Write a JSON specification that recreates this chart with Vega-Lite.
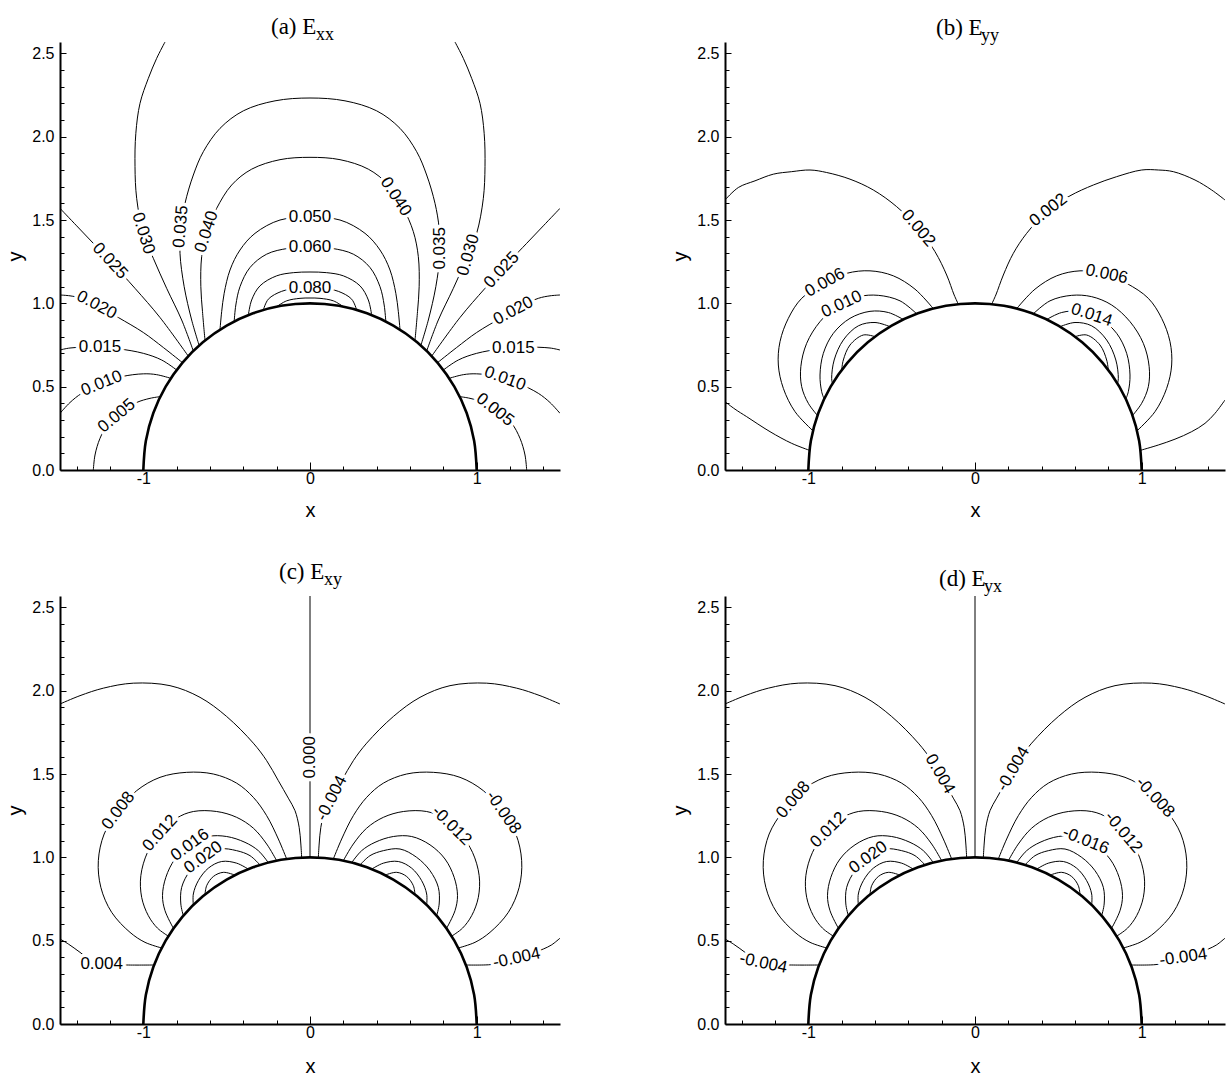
{
"$schema":"https://vega.github.io/schema/vega-lite/v6.json",
"autosize":{"type":"none"},
"padding":{"left":60,"top":42,"right":1168,"bottom":1034},
"background":"white",
"config":{"view":{"stroke":null},"axis":{"domainColor":"black","domainWidth":2,"tickColor":"black","tickWidth":1,"labelFont":"Liberation Sans","labelFontSize":16,"labelColor":"black","titleFont":"Liberation Sans","titleFontSize":20,"titleFontWeight":"normal","titleColor":"black","grid":false},"text":{"font":"Liberation Sans"},"line":{"strokeJoin":"round"},"title":{"font":"Liberation Serif","fontSize":23,"fontWeight":"normal","color":"black","subtitleFont":"Liberation Serif","subtitleFontSize":18,"subtitleColor":"black","anchor":"start","frame":"group","align":"left"}},
"datasets":{
"circ":[{"x":-1,"y":0},{"x":-0.985,"y":0.174},{"x":-0.94,"y":0.342},{"x":-0.866,"y":0.5},{"x":-0.766,"y":0.643},{"x":-0.643,"y":0.766},{"x":-0.5,"y":0.866},{"x":-0.342,"y":0.94},{"x":-0.174,"y":0.985},{"x":0,"y":1},{"x":0.174,"y":0.985},{"x":0.342,"y":0.94},{"x":0.5,"y":0.866},{"x":0.643,"y":0.766},{"x":0.766,"y":0.643},{"x":0.866,"y":0.5},{"x":0.94,"y":0.342},{"x":0.985,"y":0.174},{"x":1,"y":0}],
"a":[
{"c":"005L","x":-1.3,"y":0},{"c":"005L","x":-1.29,"y":0.09},{"c":"005L","x":-1.26,"y":0.19},{"c":"005L","x":-1.21,"y":0.28},{"c":"005L","x":-1.13,"y":0.35},{"c":"005L","x":-1.04,"y":0.405},{"c":"005L","x":-0.96,"y":0.43},{"c":"005L","x":-0.9,"y":0.44},
{"c":"005R","x":1.3,"y":0},{"c":"005R","x":1.29,"y":0.09},{"c":"005R","x":1.26,"y":0.19},{"c":"005R","x":1.21,"y":0.28},{"c":"005R","x":1.13,"y":0.35},{"c":"005R","x":1.04,"y":0.405},{"c":"005R","x":0.96,"y":0.43},{"c":"005R","x":0.9,"y":0.44},
{"c":"010L","x":-1.5,"y":0.34},{"c":"010L","x":-1.44,"y":0.405},{"c":"010L","x":-1.37,"y":0.46},{"c":"010L","x":-1.25,"y":0.52},{"c":"010L","x":-1.13,"y":0.56},{"c":"010L","x":-1.0,"y":0.577},{"c":"010L","x":-0.92,"y":0.572},{"c":"010L","x":-0.835,"y":0.55},
{"c":"010R","x":1.5,"y":0.34},{"c":"010R","x":1.44,"y":0.405},{"c":"010R","x":1.37,"y":0.46},{"c":"010R","x":1.25,"y":0.52},{"c":"010R","x":1.13,"y":0.56},{"c":"010R","x":1.0,"y":0.577},{"c":"010R","x":0.92,"y":0.572},{"c":"010R","x":0.835,"y":0.55},
{"c":"015L","x":-1.5,"y":0.72},{"c":"015L","x":-1.44,"y":0.732},{"c":"015L","x":-1.3,"y":0.737},{"c":"015L","x":-1.15,"y":0.727},{"c":"015L","x":-1.0,"y":0.7},{"c":"015L","x":-0.89,"y":0.66},{"c":"015L","x":-0.8,"y":0.6},
{"c":"015R","x":1.5,"y":0.72},{"c":"015R","x":1.44,"y":0.732},{"c":"015R","x":1.3,"y":0.737},{"c":"015R","x":1.15,"y":0.727},{"c":"015R","x":1.0,"y":0.7},{"c":"015R","x":0.89,"y":0.66},{"c":"015R","x":0.8,"y":0.6},
{"c":"020L","x":-1.5,"y":1.05},{"c":"020L","x":-1.44,"y":1.045},{"c":"020L","x":-1.37,"y":1.03},{"c":"020L","x":-1.27,"y":0.985},{"c":"020L","x":-1.15,"y":0.915},{"c":"020L","x":-1.0,"y":0.825},{"c":"020L","x":-0.88,"y":0.735},{"c":"020L","x":-0.765,"y":0.644},
{"c":"020R","x":1.5,"y":1.05},{"c":"020R","x":1.44,"y":1.045},{"c":"020R","x":1.37,"y":1.03},{"c":"020R","x":1.27,"y":0.985},{"c":"020R","x":1.15,"y":0.915},{"c":"020R","x":1.0,"y":0.825},{"c":"020R","x":0.88,"y":0.735},{"c":"020R","x":0.765,"y":0.644},
{"c":"025L","x":-1.5,"y":1.57},{"c":"025L","x":-1.4,"y":1.465},{"c":"025L","x":-1.3,"y":1.36},{"c":"025L","x":-1.2,"y":1.255},{"c":"025L","x":-1.05,"y":1.09},{"c":"025L","x":-0.9,"y":0.915},{"c":"025L","x":-0.73,"y":0.683},
{"c":"025R","x":1.5,"y":1.57},{"c":"025R","x":1.4,"y":1.465},{"c":"025R","x":1.3,"y":1.36},{"c":"025R","x":1.2,"y":1.255},{"c":"025R","x":1.05,"y":1.09},{"c":"025R","x":0.9,"y":0.915},{"c":"025R","x":0.73,"y":0.683},
{"c":"030L","x":-0.87,"y":2.568},{"c":"030L","x":-0.92,"y":2.47},{"c":"030L","x":-0.97,"y":2.35},{"c":"030L","x":-1.02,"y":2.2},{"c":"030L","x":-1.045,"y":2.02},{"c":"030L","x":-1.05,"y":1.82},{"c":"030L","x":-1.04,"y":1.63},{"c":"030L","x":-1.0,"y":1.42},{"c":"030L","x":-0.94,"y":1.27},{"c":"030L","x":-0.86,"y":1.09},{"c":"030L","x":-0.77,"y":0.9},{"c":"030L","x":-0.7,"y":0.714},
{"c":"030R","x":0.87,"y":2.568},{"c":"030R","x":0.92,"y":2.47},{"c":"030R","x":0.97,"y":2.35},{"c":"030R","x":1.02,"y":2.2},{"c":"030R","x":1.045,"y":2.02},{"c":"030R","x":1.05,"y":1.82},{"c":"030R","x":1.04,"y":1.63},{"c":"030R","x":1.0,"y":1.42},{"c":"030R","x":0.94,"y":1.27},{"c":"030R","x":0.86,"y":1.09},{"c":"030R","x":0.77,"y":0.9},{"c":"030R","x":0.7,"y":0.714},
{"c":"035","x":-0.665,"y":0.747},{"c":"035","x":-0.71,"y":0.9},{"c":"035","x":-0.755,"y":1.1},{"c":"035","x":-0.78,"y":1.3},{"c":"035","x":-0.775,"y":1.45},{"c":"035","x":-0.75,"y":1.6},{"c":"035","x":-0.7,"y":1.77},{"c":"035","x":-0.64,"y":1.91},{"c":"035","x":-0.54,"y":2.05},{"c":"035","x":-0.4,"y":2.155},{"c":"035","x":-0.21,"y":2.215},{"c":"035","x":0,"y":2.232},{"c":"035","x":0.21,"y":2.215},{"c":"035","x":0.4,"y":2.155},{"c":"035","x":0.54,"y":2.05},{"c":"035","x":0.64,"y":1.91},{"c":"035","x":0.7,"y":1.77},{"c":"035","x":0.75,"y":1.6},{"c":"035","x":0.775,"y":1.45},{"c":"035","x":0.78,"y":1.3},{"c":"035","x":0.755,"y":1.1},{"c":"035","x":0.71,"y":0.9},{"c":"035","x":0.665,"y":0.747},
{"c":"040","x":-0.63,"y":0.777},{"c":"040","x":-0.645,"y":0.95},{"c":"040","x":-0.655,"y":1.1},{"c":"040","x":-0.65,"y":1.28},{"c":"040","x":-0.62,"y":1.43},{"c":"040","x":-0.56,"y":1.57},{"c":"040","x":-0.47,"y":1.71},{"c":"040","x":-0.35,"y":1.805},{"c":"040","x":-0.18,"y":1.862},{"c":"040","x":0,"y":1.876},{"c":"040","x":0.18,"y":1.862},{"c":"040","x":0.35,"y":1.805},{"c":"040","x":0.47,"y":1.71},{"c":"040","x":0.56,"y":1.57},{"c":"040","x":0.62,"y":1.43},{"c":"040","x":0.65,"y":1.28},{"c":"040","x":0.655,"y":1.1},{"c":"040","x":0.645,"y":0.95},{"c":"040","x":0.63,"y":0.777},
{"c":"050","x":-0.54,"y":0.842},{"c":"050","x":-0.53,"y":0.95},{"c":"050","x":-0.515,"y":1.06},{"c":"050","x":-0.48,"y":1.2},{"c":"050","x":-0.42,"y":1.32},{"c":"050","x":-0.33,"y":1.42},{"c":"050","x":-0.18,"y":1.5},{"c":"050","x":0,"y":1.517},{"c":"050","x":0.18,"y":1.5},{"c":"050","x":0.33,"y":1.42},{"c":"050","x":0.42,"y":1.32},{"c":"050","x":0.48,"y":1.2},{"c":"050","x":0.515,"y":1.06},{"c":"050","x":0.53,"y":0.95},{"c":"050","x":0.54,"y":0.842},
{"c":"060","x":-0.455,"y":0.89},{"c":"060","x":-0.445,"y":0.99},{"c":"060","x":-0.42,"y":1.1},{"c":"060","x":-0.36,"y":1.215},{"c":"060","x":-0.26,"y":1.295},{"c":"060","x":-0.13,"y":1.33},{"c":"060","x":0,"y":1.337},{"c":"060","x":0.13,"y":1.33},{"c":"060","x":0.26,"y":1.295},{"c":"060","x":0.36,"y":1.215},{"c":"060","x":0.42,"y":1.1},{"c":"060","x":0.445,"y":0.99},{"c":"060","x":0.455,"y":0.89},
{"c":"070","x":-0.37,"y":0.929},{"c":"070","x":-0.35,"y":1.02},{"c":"070","x":-0.3,"y":1.105},{"c":"070","x":-0.2,"y":1.165},{"c":"070","x":-0.1,"y":1.184},{"c":"070","x":0,"y":1.188},{"c":"070","x":0.1,"y":1.184},{"c":"070","x":0.2,"y":1.165},{"c":"070","x":0.3,"y":1.105},{"c":"070","x":0.35,"y":1.02},{"c":"070","x":0.37,"y":0.929},
{"c":"080","x":-0.28,"y":0.96},{"c":"080","x":-0.25,"y":1.025},{"c":"080","x":-0.17,"y":1.072},{"c":"080","x":-0.08,"y":1.09},{"c":"080","x":0,"y":1.093},{"c":"080","x":0.08,"y":1.09},{"c":"080","x":0.17,"y":1.072},{"c":"080","x":0.25,"y":1.025},{"c":"080","x":0.28,"y":0.96},
{"c":"090","x":-0.2,"y":0.98},{"c":"090","x":-0.14,"y":1.015},{"c":"090","x":-0.06,"y":1.03},{"c":"090","x":0,"y":1.032},{"c":"090","x":0.06,"y":1.03},{"c":"090","x":0.14,"y":1.015},{"c":"090","x":0.2,"y":0.98}
],
"b":[
{"c":"002L","x":-1.5,"y":1.62},{"c":"002L","x":-1.42,"y":1.695},{"c":"002L","x":-1.32,"y":1.735},{"c":"002L","x":-1.21,"y":1.775},{"c":"002L","x":-1.1,"y":1.79},{"c":"002L","x":-0.99,"y":1.8},{"c":"002L","x":-0.89,"y":1.785},{"c":"002L","x":-0.75,"y":1.745},{"c":"002L","x":-0.61,"y":1.68},{"c":"002L","x":-0.47,"y":1.58},{"c":"002L","x":-0.34,"y":1.45},{"c":"002L","x":-0.24,"y":1.31},{"c":"002L","x":-0.17,"y":1.17},{"c":"002L","x":-0.125,"y":1.05},{"c":"002L","x":-0.1,"y":0.995},
{"c":"002R","x":0.1,"y":0.995},{"c":"002R","x":0.125,"y":1.05},{"c":"002R","x":0.17,"y":1.17},{"c":"002R","x":0.23,"y":1.3},{"c":"002R","x":0.31,"y":1.42},{"c":"002R","x":0.44,"y":1.56},{"c":"002R","x":0.57,"y":1.645},{"c":"002R","x":0.71,"y":1.71},{"c":"002R","x":0.85,"y":1.76},{"c":"002R","x":1.0,"y":1.8},{"c":"002R","x":1.1,"y":1.8},{"c":"002R","x":1.19,"y":1.79},{"c":"002R","x":1.32,"y":1.74},{"c":"002R","x":1.42,"y":1.68},{"c":"002R","x":1.5,"y":1.62},
{"c":"lowL","x":-1.5,"y":0.41},{"c":"lowL","x":-1.44,"y":0.365},{"c":"lowL","x":-1.37,"y":0.32},{"c":"lowL","x":-1.23,"y":0.23},{"c":"lowL","x":-1.1,"y":0.16},{"c":"lowL","x":-0.993,"y":0.118},
{"c":"lowR","x":0.993,"y":0.118},{"c":"lowR","x":1.1,"y":0.15},{"c":"lowR","x":1.2,"y":0.185},{"c":"lowR","x":1.3,"y":0.23},{"c":"lowR","x":1.38,"y":0.28},{"c":"lowR","x":1.44,"y":0.34},{"c":"lowR","x":1.5,"y":0.42},
{"c":"006L","x":-0.25,"y":0.968},{"c":"006L","x":-0.36,"y":1.085},{"c":"006L","x":-0.49,"y":1.165},{"c":"006L","x":-0.63,"y":1.195},{"c":"006L","x":-0.77,"y":1.18},{"c":"006L","x":-0.91,"y":1.12},{"c":"006L","x":-1.04,"y":1.03},{"c":"006L","x":-1.12,"y":0.91},{"c":"006L","x":-1.17,"y":0.77},{"c":"006L","x":-1.18,"y":0.63},{"c":"006L","x":-1.15,"y":0.49},{"c":"006L","x":-1.08,"y":0.35},{"c":"006L","x":-0.972,"y":0.235},
{"c":"006R","x":0.25,"y":0.968},{"c":"006R","x":0.36,"y":1.085},{"c":"006R","x":0.49,"y":1.165},{"c":"006R","x":0.63,"y":1.195},{"c":"006R","x":0.77,"y":1.18},{"c":"006R","x":0.91,"y":1.12},{"c":"006R","x":1.04,"y":1.03},{"c":"006R","x":1.12,"y":0.91},{"c":"006R","x":1.17,"y":0.77},{"c":"006R","x":1.18,"y":0.63},{"c":"006R","x":1.15,"y":0.49},{"c":"006R","x":1.08,"y":0.35},{"c":"006R","x":0.972,"y":0.235},
{"c":"010L","x":-0.35,"y":0.937},{"c":"010L","x":-0.45,"y":1.015},{"c":"010L","x":-0.58,"y":1.048},{"c":"010L","x":-0.7,"y":1.04},{"c":"010L","x":-0.82,"y":0.99},{"c":"010L","x":-0.93,"y":0.89},{"c":"010L","x":-1.01,"y":0.76},{"c":"010L","x":-1.045,"y":0.62},{"c":"010L","x":-1.04,"y":0.5},{"c":"010L","x":-1.0,"y":0.4},{"c":"010L","x":-0.945,"y":0.327},
{"c":"010R","x":0.35,"y":0.937},{"c":"010R","x":0.45,"y":1.015},{"c":"010R","x":0.58,"y":1.048},{"c":"010R","x":0.7,"y":1.04},{"c":"010R","x":0.82,"y":0.99},{"c":"010R","x":0.93,"y":0.89},{"c":"010R","x":1.01,"y":0.76},{"c":"010R","x":1.045,"y":0.62},{"c":"010R","x":1.04,"y":0.5},{"c":"010R","x":1.0,"y":0.4},{"c":"010R","x":0.945,"y":0.327},
{"c":"014L","x":-0.43,"y":0.903},{"c":"014L","x":-0.52,"y":0.945},{"c":"014L","x":-0.63,"y":0.952},{"c":"014L","x":-0.75,"y":0.91},{"c":"014L","x":-0.85,"y":0.82},{"c":"014L","x":-0.91,"y":0.7},{"c":"014L","x":-0.93,"y":0.57},{"c":"014L","x":-0.92,"y":0.47},{"c":"014L","x":-0.905,"y":0.425},
{"c":"014R","x":0.43,"y":0.903},{"c":"014R","x":0.52,"y":0.945},{"c":"014R","x":0.63,"y":0.952},{"c":"014R","x":0.75,"y":0.91},{"c":"014R","x":0.85,"y":0.82},{"c":"014R","x":0.91,"y":0.7},{"c":"014R","x":0.93,"y":0.57},{"c":"014R","x":0.92,"y":0.47},{"c":"014R","x":0.905,"y":0.425},
{"c":"018L","x":-0.51,"y":0.86},{"c":"018L","x":-0.6,"y":0.885},{"c":"018L","x":-0.7,"y":0.865},{"c":"018L","x":-0.79,"y":0.78},{"c":"018L","x":-0.845,"y":0.66},{"c":"018L","x":-0.86,"y":0.55},{"c":"018L","x":-0.855,"y":0.518},
{"c":"018R","x":0.51,"y":0.86},{"c":"018R","x":0.6,"y":0.885},{"c":"018R","x":0.7,"y":0.865},{"c":"018R","x":0.79,"y":0.78},{"c":"018R","x":0.845,"y":0.66},{"c":"018R","x":0.86,"y":0.55},{"c":"018R","x":0.855,"y":0.518},
{"c":"022L","x":-0.6,"y":0.8},{"c":"022L","x":-0.67,"y":0.81},{"c":"022L","x":-0.75,"y":0.75},{"c":"022L","x":-0.79,"y":0.66},{"c":"022L","x":-0.8,"y":0.6},
{"c":"022R","x":0.6,"y":0.8},{"c":"022R","x":0.67,"y":0.81},{"c":"022R","x":0.75,"y":0.75},{"c":"022R","x":0.79,"y":0.66},{"c":"022R","x":0.8,"y":0.6}
],
"cd":[
{"c":"v","x":0,"y":1},{"c":"v","x":0,"y":2.568},
{"c":"o4L","x":-1.5,"y":1.92},{"c":"o4L","x":-1.38,"y":1.97},{"c":"o4L","x":-1.24,"y":2.015},{"c":"o4L","x":-1.06,"y":2.045},{"c":"o4L","x":-0.84,"y":2.03},{"c":"o4L","x":-0.66,"y":1.96},{"c":"o4L","x":-0.5,"y":1.845},{"c":"o4L","x":-0.34,"y":1.685},{"c":"o4L","x":-0.26,"y":1.58},{"c":"o4L","x":-0.19,"y":1.46},{"c":"o4L","x":-0.13,"y":1.355},{"c":"o4L","x":-0.09,"y":1.28},{"c":"o4L","x":-0.065,"y":1.18},{"c":"o4L","x":-0.055,"y":1.08},{"c":"o4L","x":-0.05,"y":0.999},
{"c":"o4R","x":1.5,"y":1.92},{"c":"o4R","x":1.38,"y":1.97},{"c":"o4R","x":1.24,"y":2.015},{"c":"o4R","x":1.06,"y":2.045},{"c":"o4R","x":0.84,"y":2.03},{"c":"o4R","x":0.66,"y":1.96},{"c":"o4R","x":0.5,"y":1.845},{"c":"o4R","x":0.34,"y":1.685},{"c":"o4R","x":0.26,"y":1.58},{"c":"o4R","x":0.19,"y":1.46},{"c":"o4R","x":0.13,"y":1.355},{"c":"o4R","x":0.09,"y":1.28},{"c":"o4R","x":0.065,"y":1.18},{"c":"o4R","x":0.055,"y":1.08},{"c":"o4R","x":0.05,"y":0.999},
{"c":"l4L","x":-1.5,"y":0.51},{"c":"l4L","x":-1.45,"y":0.48},{"c":"l4L","x":-1.38,"y":0.43},{"c":"l4L","x":-1.32,"y":0.385},{"c":"l4L","x":-1.25,"y":0.36},{"c":"l4L","x":-1.1,"y":0.354},{"c":"l4L","x":-0.935,"y":0.354},
{"c":"l4R","x":0.935,"y":0.354},{"c":"l4R","x":1.08,"y":0.356},{"c":"l4R","x":1.16,"y":0.37},{"c":"l4R","x":1.24,"y":0.395},{"c":"l4R","x":1.32,"y":0.42},{"c":"l4R","x":1.4,"y":0.45},{"c":"l4R","x":1.45,"y":0.475},{"c":"l4R","x":1.5,"y":0.515},
{"c":"8L","x":-0.14,"y":0.99},{"c":"8L","x":-0.19,"y":1.11},{"c":"8L","x":-0.26,"y":1.25},{"c":"8L","x":-0.34,"y":1.36},{"c":"8L","x":-0.44,"y":1.445},{"c":"8L","x":-0.58,"y":1.5},{"c":"8L","x":-0.74,"y":1.51},{"c":"8L","x":-0.9,"y":1.48},{"c":"8L","x":-1.04,"y":1.4},{"c":"8L","x":-1.15,"y":1.28},{"c":"8L","x":-1.235,"y":1.14},{"c":"8L","x":-1.27,"y":0.98},{"c":"8L","x":-1.255,"y":0.82},{"c":"8L","x":-1.19,"y":0.67},{"c":"8L","x":-1.08,"y":0.55},{"c":"8L","x":-0.99,"y":0.49},{"c":"8L","x":-0.89,"y":0.456},
{"c":"8R","x":0.14,"y":0.99},{"c":"8R","x":0.19,"y":1.11},{"c":"8R","x":0.26,"y":1.25},{"c":"8R","x":0.34,"y":1.36},{"c":"8R","x":0.44,"y":1.445},{"c":"8R","x":0.58,"y":1.5},{"c":"8R","x":0.74,"y":1.51},{"c":"8R","x":0.9,"y":1.48},{"c":"8R","x":1.04,"y":1.4},{"c":"8R","x":1.15,"y":1.28},{"c":"8R","x":1.235,"y":1.14},{"c":"8R","x":1.27,"y":0.98},{"c":"8R","x":1.255,"y":0.82},{"c":"8R","x":1.19,"y":0.67},{"c":"8R","x":1.08,"y":0.55},{"c":"8R","x":0.99,"y":0.49},{"c":"8R","x":0.89,"y":0.456},
{"c":"12L","x":-0.2,"y":0.98},{"c":"12L","x":-0.26,"y":1.08},{"c":"12L","x":-0.34,"y":1.175},{"c":"12L","x":-0.44,"y":1.24},{"c":"12L","x":-0.56,"y":1.275},{"c":"12L","x":-0.7,"y":1.275},{"c":"12L","x":-0.8,"y":1.235},{"c":"12L","x":-0.9,"y":1.145},{"c":"12L","x":-0.975,"y":1.03},{"c":"12L","x":-1.015,"y":0.89},{"c":"12L","x":-1.01,"y":0.76},{"c":"12L","x":-0.97,"y":0.65},{"c":"12L","x":-0.915,"y":0.575},{"c":"12L","x":-0.85,"y":0.527},
{"c":"12R","x":0.2,"y":0.98},{"c":"12R","x":0.26,"y":1.08},{"c":"12R","x":0.34,"y":1.175},{"c":"12R","x":0.44,"y":1.24},{"c":"12R","x":0.56,"y":1.275},{"c":"12R","x":0.7,"y":1.275},{"c":"12R","x":0.8,"y":1.235},{"c":"12R","x":0.9,"y":1.145},{"c":"12R","x":0.975,"y":1.03},{"c":"12R","x":1.015,"y":0.89},{"c":"12R","x":1.01,"y":0.76},{"c":"12R","x":0.97,"y":0.65},{"c":"12R","x":0.915,"y":0.575},{"c":"12R","x":0.85,"y":0.527},
{"c":"16L","x":-0.25,"y":0.968},{"c":"16L","x":-0.31,"y":1.04},{"c":"16L","x":-0.39,"y":1.09},{"c":"16L","x":-0.5,"y":1.125},{"c":"16L","x":-0.61,"y":1.125},{"c":"16L","x":-0.72,"y":1.075},{"c":"16L","x":-0.81,"y":0.99},{"c":"16L","x":-0.865,"y":0.88},{"c":"16L","x":-0.885,"y":0.77},{"c":"16L","x":-0.87,"y":0.68},{"c":"16L","x":-0.82,"y":0.575},
{"c":"16R","x":0.25,"y":0.968},{"c":"16R","x":0.31,"y":1.04},{"c":"16R","x":0.39,"y":1.09},{"c":"16R","x":0.5,"y":1.125},{"c":"16R","x":0.61,"y":1.125},{"c":"16R","x":0.72,"y":1.075},{"c":"16R","x":0.81,"y":0.99},{"c":"16R","x":0.865,"y":0.88},{"c":"16R","x":0.885,"y":0.77},{"c":"16R","x":0.87,"y":0.68},{"c":"16R","x":0.82,"y":0.575},
{"c":"20L","x":-0.3,"y":0.954},{"c":"20L","x":-0.36,"y":1.01},{"c":"20L","x":-0.44,"y":1.04},{"c":"20L","x":-0.54,"y":1.05},{"c":"20L","x":-0.64,"y":1.0},{"c":"20L","x":-0.72,"y":0.92},{"c":"20L","x":-0.77,"y":0.82},{"c":"20L","x":-0.775,"y":0.72},{"c":"20L","x":-0.76,"y":0.65},
{"c":"20R","x":0.3,"y":0.954},{"c":"20R","x":0.36,"y":1.01},{"c":"20R","x":0.44,"y":1.04},{"c":"20R","x":0.54,"y":1.05},{"c":"20R","x":0.64,"y":1.0},{"c":"20R","x":0.72,"y":0.92},{"c":"20R","x":0.77,"y":0.82},{"c":"20R","x":0.775,"y":0.72},{"c":"20R","x":0.76,"y":0.65},
{"c":"24L","x":-0.37,"y":0.929},{"c":"24L","x":-0.44,"y":0.965},{"c":"24L","x":-0.53,"y":0.975},{"c":"24L","x":-0.61,"y":0.935},{"c":"24L","x":-0.67,"y":0.86},{"c":"24L","x":-0.7,"y":0.78},{"c":"24L","x":-0.7,"y":0.714},
{"c":"24R","x":0.37,"y":0.929},{"c":"24R","x":0.44,"y":0.965},{"c":"24R","x":0.53,"y":0.975},{"c":"24R","x":0.61,"y":0.935},{"c":"24R","x":0.67,"y":0.86},{"c":"24R","x":0.7,"y":0.78},{"c":"24R","x":0.7,"y":0.714},
{"c":"28L","x":-0.45,"y":0.893},{"c":"28L","x":-0.52,"y":0.91},{"c":"28L","x":-0.58,"y":0.885},{"c":"28L","x":-0.62,"y":0.83},{"c":"28L","x":-0.63,"y":0.777},
{"c":"28R","x":0.45,"y":0.893},{"c":"28R","x":0.52,"y":0.91},{"c":"28R","x":0.58,"y":0.885},{"c":"28R","x":0.62,"y":0.83},{"c":"28R","x":0.63,"y":0.777}
],
"la":[{"t":"0.005","x":-1.16,"y":0.325,"r":-40},{"t":"0.010","x":-1.25,"y":0.52,"r":-22},{"t":"0.015","x":-1.26,"y":0.736,"r":0},{"t":"0.020","x":-1.28,"y":0.99,"r":28},{"t":"0.025","x":-1.2,"y":1.255,"r":47},{"t":"0.030","x":-1.0,"y":1.42,"r":73},{"t":"0.035","x":-0.775,"y":1.46,"r":-85},{"t":"0.040","x":-0.62,"y":1.43,"r":-72},{"t":"0.050","x":0,"y":1.517,"r":0},{"t":"0.060","x":0,"y":1.337,"r":0},{"t":"0.080","x":0,"y":1.093,"r":0},{"t":"0.040","x":0.515,"y":1.64,"r":57},{"t":"0.035","x":0.78,"y":1.33,"r":-90},{"t":"0.030","x":0.95,"y":1.29,"r":-74},{"t":"0.025","x":1.15,"y":1.2,"r":-47},{"t":"0.020","x":1.22,"y":0.955,"r":-28},{"t":"0.015","x":1.22,"y":0.733,"r":0},{"t":"0.010","x":1.17,"y":0.548,"r":20},{"t":"0.005","x":1.11,"y":0.362,"r":38}],
"lb":[{"t":"0.002","x":-0.34,"y":1.45,"r":50},{"t":"0.006","x":-0.9,"y":1.125,"r":-29},{"t":"0.010","x":-0.8,"y":0.995,"r":-25},{"t":"0.002","x":0.44,"y":1.56,"r":-38},{"t":"0.006","x":0.79,"y":1.175,"r":12},{"t":"0.014","x":0.7,"y":0.93,"r":18}],
"lc":[{"t":"0.000","x":0,"y":1.6,"r":-90},{"t":"0.008","x":-1.15,"y":1.28,"r":-53},{"t":"0.012","x":-0.9,"y":1.145,"r":-48},{"t":"0.016","x":-0.72,"y":1.075,"r":-36},{"t":"0.020","x":-0.64,"y":1.0,"r":-36},{"t":"0.004","x":-1.25,"y":0.362,"r":0},{"t":"-0.004","x":0.13,"y":1.355,"r":-63},{"t":"-0.008","x":1.16,"y":1.27,"r":55},{"t":"-0.012","x":0.85,"y":1.19,"r":45},{"t":"-0.004","x":1.24,"y":0.395,"r":-12}],
"ld":[{"t":"0.004","x":-0.21,"y":1.5,"r":60},{"t":"0.008","x":-1.09,"y":1.345,"r":-50},{"t":"0.012","x":-0.88,"y":1.165,"r":-45},{"t":"0.020","x":-0.64,"y":1.0,"r":-36},{"t":"-0.004","x":-1.27,"y":0.365,"r":12},{"t":"-0.004","x":0.23,"y":1.53,"r":-60},{"t":"-0.008","x":1.08,"y":1.36,"r":47},{"t":"-0.012","x":0.89,"y":1.15,"r":50},{"t":"-0.016","x":0.665,"y":1.1,"r":22},{"t":"-0.004","x":1.25,"y":0.4,"r":-8}]
},
"concat":[
{"width":500,"height":428,
"title":{"text":"(a) E","subtitle":"\u2060\u2002\u2002\u2002\u2002\u2002xx","dx":211,"offset":-2,"subtitlePadding":-13},
"encoding":{"x":{"field":"x","type":"quantitative","scale":{"domain":[-1.5,1.5],"nice":false,"zero":false},"axis":{"title":"x","values":[-1.4,-1.2,-1,-0.8,-0.6,-0.4,-0.2,0,0.2,0.4,0.6,0.8,1,1.2,1.4],"labelExpr":"abs(datum.value-round(datum.value))<0.01 ? ''+round(datum.value) : ''","tickSize":{"condition":{"test":"abs(datum.value-round(datum.value))<0.01","value":-8},"value":-4},"labelPadding":8,"titlePadding":10,"labelOverlap":false,"labelFlush":false}},
"y":{"field":"y","type":"quantitative","scale":{"domain":[0,2.568],"nice":false,"zero":false},"axis":{"title":"y","values":[0,0.1,0.2,0.3,0.4,0.5,0.6,0.7,0.8,0.9,1,1.1,1.2,1.3,1.4,1.5,1.6,1.7,1.8,1.9,2,2.1,2.2,2.3,2.4,2.5],"labelExpr":"abs(datum.value*2-round(datum.value*2))<0.01 ? format(datum.value,'.1f') : ''","tickSize":{"condition":{"test":"abs(datum.value*2-round(datum.value*2))<0.01","value":-6},"value":-4},"labelPadding":12,"titlePadding":6,"labelOverlap":false,"labelFlush":false}}},
"layer":[
{"data":{"name":"a"},"mark":{"type":"line","interpolate":"catmull-rom","color":"black","strokeWidth":1,"clip":true,"order":false},"encoding":{"detail":{"field":"c","type":"nominal"}}},
{"data":{"name":"circ"},"mark":{"type":"line","interpolate":"catmull-rom","color":"black","strokeWidth":2.6,"order":false},"encoding":{}},
{"data":{"name":"la"},"mark":{"type":"text","fontSize":17,"stroke":"white","strokeWidth":7,"strokeJoin":"round","color":"white"},"encoding":{"text":{"field":"t"},"angle":{"field":"r","type":"quantitative","scale":null}}},
{"data":{"name":"la"},"mark":{"type":"text","fontSize":17,"color":"black"},"encoding":{"text":{"field":"t"},"angle":{"field":"r","type":"quantitative","scale":null}}}
]},
{"width":500,"height":428,
"title":{"text":"(b) E","subtitle":"\u2060\u2002\u2002\u2002\u2002\u2002yy","dx":211,"offset":-3,"subtitlePadding":-13},
"encoding":{"x":{"field":"x","type":"quantitative","scale":{"domain":[-1.5,1.5],"nice":false,"zero":false},"axis":{"title":"x","values":[-1.4,-1.2,-1,-0.8,-0.6,-0.4,-0.2,0,0.2,0.4,0.6,0.8,1,1.2,1.4],"labelExpr":"abs(datum.value-round(datum.value))<0.01 ? ''+round(datum.value) : ''","tickSize":{"condition":{"test":"abs(datum.value-round(datum.value))<0.01","value":-8},"value":-4},"labelPadding":8,"titlePadding":10,"labelOverlap":false,"labelFlush":false}},
"y":{"field":"y","type":"quantitative","scale":{"domain":[0,2.568],"nice":false,"zero":false},"axis":{"title":"y","values":[0,0.1,0.2,0.3,0.4,0.5,0.6,0.7,0.8,0.9,1,1.1,1.2,1.3,1.4,1.5,1.6,1.7,1.8,1.9,2,2.1,2.2,2.3,2.4,2.5],"labelExpr":"abs(datum.value*2-round(datum.value*2))<0.01 ? format(datum.value,'.1f') : ''","tickSize":{"condition":{"test":"abs(datum.value*2-round(datum.value*2))<0.01","value":-6},"value":-4},"labelPadding":12,"titlePadding":6,"labelOverlap":false,"labelFlush":false}}},
"layer":[
{"data":{"name":"b"},"mark":{"type":"line","interpolate":"catmull-rom","color":"black","strokeWidth":1,"clip":true,"order":false},"encoding":{"detail":{"field":"c","type":"nominal"}}},
{"data":{"name":"circ"},"mark":{"type":"line","interpolate":"catmull-rom","color":"black","strokeWidth":2.6,"order":false},"encoding":{}},
{"data":{"name":"lb"},"mark":{"type":"text","fontSize":17,"stroke":"white","strokeWidth":7,"strokeJoin":"round","color":"white"},"encoding":{"text":{"field":"t"},"angle":{"field":"r","type":"quantitative","scale":null}}},
{"data":{"name":"lb"},"mark":{"type":"text","fontSize":17,"color":"black"},"encoding":{"text":{"field":"t"},"angle":{"field":"r","type":"quantitative","scale":null}}}
]},
{"width":500,"height":428,
"title":{"text":"(c) E","subtitle":"\u2060\u2002\u2002\u2002\u2002\u2002xy","dx":219,"offset":7,"subtitlePadding":-13},
"encoding":{"x":{"field":"x","type":"quantitative","scale":{"domain":[-1.5,1.5],"nice":false,"zero":false},"axis":{"title":"x","values":[-1.4,-1.2,-1,-0.8,-0.6,-0.4,-0.2,0,0.2,0.4,0.6,0.8,1,1.2,1.4],"labelExpr":"abs(datum.value-round(datum.value))<0.01 ? ''+round(datum.value) : ''","tickSize":{"condition":{"test":"abs(datum.value-round(datum.value))<0.01","value":-8},"value":-4},"labelPadding":8,"titlePadding":12,"labelOverlap":false,"labelFlush":false}},
"y":{"field":"y","type":"quantitative","scale":{"domain":[0,2.568],"nice":false,"zero":false},"axis":{"title":"y","values":[0,0.1,0.2,0.3,0.4,0.5,0.6,0.7,0.8,0.9,1,1.1,1.2,1.3,1.4,1.5,1.6,1.7,1.8,1.9,2,2.1,2.2,2.3,2.4,2.5],"labelExpr":"abs(datum.value*2-round(datum.value*2))<0.01 ? format(datum.value,'.1f') : ''","tickSize":{"condition":{"test":"abs(datum.value*2-round(datum.value*2))<0.01","value":-6},"value":-4},"labelPadding":12,"titlePadding":6,"labelOverlap":false,"labelFlush":false}}},
"layer":[
{"data":{"name":"cd"},"mark":{"type":"line","interpolate":"catmull-rom","color":"black","strokeWidth":1,"clip":true,"order":false},"encoding":{"detail":{"field":"c","type":"nominal"}}},
{"data":{"name":"circ"},"mark":{"type":"line","interpolate":"catmull-rom","color":"black","strokeWidth":2.6,"order":false},"encoding":{}},
{"data":{"name":"lc"},"mark":{"type":"text","fontSize":17,"stroke":"white","strokeWidth":7,"strokeJoin":"round","color":"white"},"encoding":{"text":{"field":"t"},"angle":{"field":"r","type":"quantitative","scale":null}}},
{"data":{"name":"lc"},"mark":{"type":"text","fontSize":17,"color":"black"},"encoding":{"text":{"field":"t"},"angle":{"field":"r","type":"quantitative","scale":null}}}
]},
{"width":500,"height":428,
"title":{"text":"(d) E","subtitle":"\u2060\u2002\u2002\u2002\u2002\u2002yx","dx":214,"offset":0,"subtitlePadding":-13},
"encoding":{"x":{"field":"x","type":"quantitative","scale":{"domain":[-1.5,1.5],"nice":false,"zero":false},"axis":{"title":"x","values":[-1.4,-1.2,-1,-0.8,-0.6,-0.4,-0.2,0,0.2,0.4,0.6,0.8,1,1.2,1.4],"labelExpr":"abs(datum.value-round(datum.value))<0.01 ? ''+round(datum.value) : ''","tickSize":{"condition":{"test":"abs(datum.value-round(datum.value))<0.01","value":-8},"value":-4},"labelPadding":8,"titlePadding":12,"labelOverlap":false,"labelFlush":false}},
"y":{"field":"y","type":"quantitative","scale":{"domain":[0,2.568],"nice":false,"zero":false},"axis":{"title":"y","values":[0,0.1,0.2,0.3,0.4,0.5,0.6,0.7,0.8,0.9,1,1.1,1.2,1.3,1.4,1.5,1.6,1.7,1.8,1.9,2,2.1,2.2,2.3,2.4,2.5],"labelExpr":"abs(datum.value*2-round(datum.value*2))<0.01 ? format(datum.value,'.1f') : ''","tickSize":{"condition":{"test":"abs(datum.value*2-round(datum.value*2))<0.01","value":-6},"value":-4},"labelPadding":12,"titlePadding":6,"labelOverlap":false,"labelFlush":false}}},
"layer":[
{"data":{"name":"cd"},"mark":{"type":"line","interpolate":"catmull-rom","color":"black","strokeWidth":1,"clip":true,"order":false},"encoding":{"detail":{"field":"c","type":"nominal"}}},
{"data":{"name":"circ"},"mark":{"type":"line","interpolate":"catmull-rom","color":"black","strokeWidth":2.6,"order":false},"encoding":{}},
{"data":{"name":"ld"},"mark":{"type":"text","fontSize":17,"stroke":"white","strokeWidth":7,"strokeJoin":"round","color":"white"},"encoding":{"text":{"field":"t"},"angle":{"field":"r","type":"quantitative","scale":null}}},
{"data":{"name":"ld"},"mark":{"type":"text","fontSize":17,"color":"black"},"encoding":{"text":{"field":"t"},"angle":{"field":"r","type":"quantitative","scale":null}}}
]}
],
"columns":2,
"spacing":{"row":126,"column":165},
"bounds":"flush"
}
